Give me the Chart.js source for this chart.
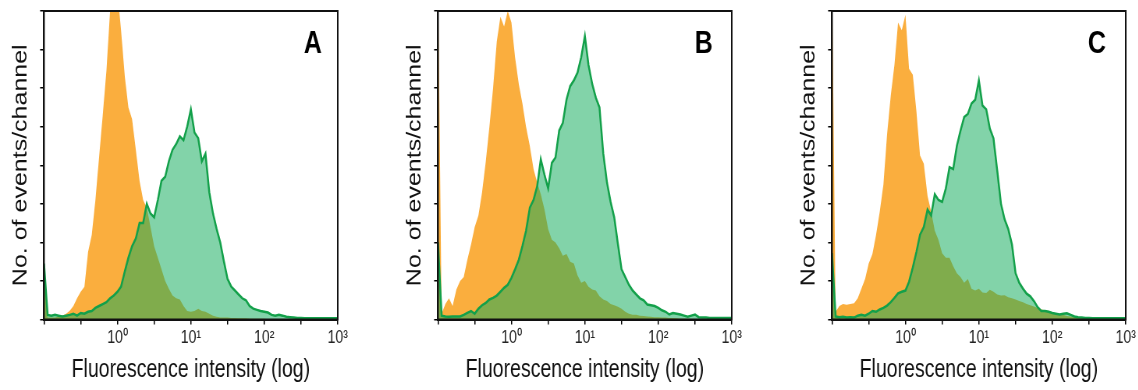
<!DOCTYPE html>
<html><head><meta charset="utf-8">
<script src="https://cdn.jsdelivr.net/npm/chart.js@4.4.1/dist/chart.umd.min.js"></script>
<style>
html,body{margin:0;padding:0;background:#fff;overflow:hidden;width:1138px;height:390px;}
.panel{position:absolute;top:0;width:449px;height:390px;transform:scaleX(0.78);transform-origin:0 0;}
canvas{display:block;}
</style></head><body>
<div class="panel" style="left:0px"><canvas id="cA" width="449" height="390"></canvas></div>
<div class="panel" style="left:394px"><canvas id="cB" width="449" height="390"></canvas></div>
<div class="panel" style="left:788px"><canvas id="cC" width="449" height="390"></canvas></div>
<script>
// Fluorescence channels (log-spaced, 0.1 .. 1000)
const channels = [0.1,0.112,0.126,0.141,0.158,0.178,0.2,0.224,0.251,0.282,
0.316,0.355,0.398,0.447,0.501,0.562,0.631,0.708,0.794,0.891,
1,1.12,1.26,1.41,1.58,1.78,2,2.24,2.51,2.82,
3.16,3.55,3.98,4.47,5.01,5.62,6.31,7.08,7.94,8.91,
10,11.2,12.6,14.1,15.8,17.8,20,22.4,25.1,28.2,
31.6,35.5,39.8,44.7,50.1,56.2,63.1,70.8,79.4,89.1,
100,112,126,141,158,178,200,224,251,282,
316,355,398,447,501,562,631,708,794,891,1000];

const tickValues = [0.1, 0.316, 1, 3.16, 10, 31.6, 100, 316, 1000];
const tickLabels = ['', '', '10\u2070', '', '10\u00b9', '', '10\u00b2', '', '10\u00b3'];
const panelLetters = ['A', 'B', 'C'];

const orangeA = [1.3,0.05,0.05,0.05,0.08,0.1,0.15,0.23,0.35,0.55,
0.72,0.85,1.75,2.2,3.1,4.2,5.3,6.45,8.0,8.5,
8.5,7.5,6.3,5.5,5.2,4.4,3.6,3.1,2.9,2.4,
1.9,1.6,1.3,1.0,0.8,0.62,0.55,0.52,0.35,0.22,
0.2,0.22,0.28,0.22,0.2,0.15,0.1,0.07,0.05,0.05,
0.05,0.04,0.04,0.03,0.03,0.03,0.02,0.02,0.02,0.02,
0.02,0,0,0,0,0,0,0,0,0,
0,0,0,0,0,0,0,0,0,0,0];
const greenA = [1.45,0.12,0.1,0.12,0.1,0.08,0.1,0.12,0.15,0.1,
0.17,0.15,0.2,0.22,0.3,0.35,0.4,0.45,0.55,0.62,
0.72,0.85,1.25,1.6,1.9,2.1,2.5,2.5,3.0,2.75,
2.65,3.1,3.6,3.7,4.1,4.4,4.55,4.75,4.65,5.0,
5.45,4.85,4.7,4.1,4.3,3.3,2.75,2.35,2.0,1.5,
1.05,0.85,0.75,0.65,0.55,0.5,0.35,0.28,0.25,0.22,
0.2,0.18,0.12,0.1,0.12,0.1,0.07,0.06,0.05,0.04,
0.04,0.03,0.03,0.03,0.03,0.03,0.03,0.03,0.03,0.03,0.03];

const orangeB = [9,0.15,0.4,0.55,0.35,0.78,1.0,1.1,1.55,1.95,
2.4,2.7,3.3,4.1,5.0,6.0,7.2,7.85,7.6,8.0,
7.7,6.8,6.1,5.6,5.0,4.5,3.9,3.55,3.25,2.85,
2.35,2.07,2.0,1.85,1.65,1.7,1.5,1.45,1.15,0.95,
1.0,0.85,0.78,0.75,0.6,0.52,0.48,0.4,0.37,0.33,
0.28,0.2,0.15,0.12,0.12,0.1,0.09,0.08,0.07,0.06,
0.06,0.05,0.05,0.04,0.04,0.03,0.02,0.02,0.02,0.01,
0,0,0,0,0,0,0,0,0,0,0];
const greenB = [2.0,0.1,0.08,0.07,0.08,0.08,0.08,0.12,0.17,0.22,
0.15,0.28,0.37,0.43,0.52,0.56,0.62,0.72,0.82,0.9,
1.08,1.3,1.55,1.9,2.3,2.9,3.1,3.45,4.15,3.75,
3.4,4.06,4.2,4.9,5.1,5.7,6.05,6.2,6.4,6.8,
7.35,6.6,6.1,5.75,5.5,4.3,3.55,3.05,2.65,1.95,
1.3,1.1,0.9,0.75,0.65,0.55,0.5,0.39,0.37,0.35,
0.3,0.24,0.2,0.13,0.17,0.15,0.13,0.1,0.07,0.1,
0.13,0.06,0.05,0.05,0.04,0.04,0.04,0.04,0.04,0.04,0.04];

const orangeC = [9,0.2,0.35,0.4,0.38,0.4,0.42,0.55,0.8,1.05,
1.45,1.7,2.2,2.8,3.5,4.8,5.8,6.6,7.7,7.5,
7.9,6.5,6.35,5.4,4.25,4.04,3.2,2.8,2.3,2.06,
1.72,1.6,1.6,1.38,1.2,1.1,0.95,1.05,0.8,0.75,
0.8,0.7,0.69,0.77,0.72,0.65,0.62,0.63,0.58,0.55,
0.52,0.48,0.45,0.4,0.37,0.34,0.3,0.26,0.24,0.22,
0.18,0.15,0.13,0.12,0.09,0.08,0.07,0.06,0.05,0.05,
0.04,0.03,0.03,0.02,0.02,0.02,0.01,0.01,0.01,0.01,0.01];
const greenC = [1.72,0.08,0.06,0.07,0.05,0.06,0.05,0.1,0.12,0.1,
0.15,0.22,0.2,0.26,0.3,0.36,0.45,0.56,0.68,0.72,
0.75,0.98,1.35,1.75,2.2,2.4,2.85,2.7,3.25,3.1,
3.05,3.4,3.95,3.9,4.5,4.9,5.25,5.33,5.6,5.7,
6.2,5.55,5.45,4.95,4.7,3.85,3.0,2.6,2.35,1.95,
1.2,0.95,0.8,0.67,0.6,0.48,0.32,0.22,0.22,0.2,
0.17,0.15,0.13,0.15,0.16,0.12,0.08,0.06,0.05,0.04,
0.04,0.03,0.03,0.03,0.03,0.03,0.03,0.03,0.03,0.03,0.03];

const FONT = "'Liberation Sans', Arial, Helvetica, sans-serif";

function framePlugin(letter, letterX) {
  return {
    id: 'frame' + letter,
    afterDraw(chart) {
      const {ctx, chartArea: a} = chart;
      ctx.save();
      ctx.strokeStyle = '#111';
      ctx.lineWidth = 2;
      ctx.strokeRect(a.left, a.top, a.right - a.left, a.bottom - a.top);
      ctx.fillStyle = '#000';
      ctx.font = 'bold 32px ' + FONT;
      ctx.textAlign = 'center';
      ctx.textBaseline = 'middle';
      ctx.fillText(letter, letterX, 44);
      ctx.restore();
    }
  };
}

function makePanel(id, letter, letterX, orange, green) {
  new Chart(document.getElementById(id), {
    type: 'line',
    data: {
      datasets: [
        { data: channels.map((c, i) => ({x: c, y: orange[i]})), fill: 'origin', order: 2,
          backgroundColor: '#faae3e', borderWidth: 0, borderColor: 'rgba(0,0,0,0)', pointRadius: 0, tension: 0 },
        { data: channels.map((c, i) => ({x: c, y: green[i]})), fill: 'origin', order: 1,
          backgroundColor: 'rgba(16,170,90,0.52)', borderColor: '#13a04a', borderWidth: 2.5, pointRadius: 0, tension: 0 }
      ]
    },
    options: {
      responsive: false, animation: false, devicePixelRatio: 1,
      layout: { autoPadding: false, padding: { left: 0, right: 11.2, top: 11, bottom: 0 } },
      plugins: { legend: { display: false }, tooltip: { enabled: false } },
      scales: {
        x: {
          type: 'logarithmic', min: 0.1, max: 1000,
          afterBuildTicks: sc => { sc.ticks = tickValues.map(v => ({ value: v })); },
          afterFit: sc => { sc.height = 70.5; },
          ticks: { autoSkip: false, maxRotation: 0, minRotation: 0, padding: 3, color: '#222',
                   font: { family: FONT, size: 18 }, callback: (v, i) => tickLabels[i] },
          grid: { drawOnChartArea: false, drawTicks: true, tickLength: 5, color: '#000', lineWidth: 1.5 },
          border: { display: true, color: '#111', width: 2 },
          title: { display: true, text: 'Fluorescence intensity (log)', color: '#111',
                   font: { family: FONT, size: 25 }, padding: { top: 0, bottom: 5 } }
        },
        y: {
          min: 0, max: 8,
          afterFit: sc => { sc.width = 56.4; },
          ticks: { display: false, stepSize: 1 },
          grid: { drawOnChartArea: false, drawTicks: true, tickLength: 5, color: '#000', lineWidth: 1.5 },
          border: { display: true, color: '#111', width: 2 },
          title: { display: true, text: 'No. of events/channel', color: '#111',
                   font: { family: FONT, size: 25 }, padding: { top: 12, bottom: 0 } }
        }
      }
    },
    plugins: [framePlugin(letter, letterX)]
  });
}

makePanel('cA', panelLetters[0], 401, orangeA, greenA);
makePanel('cB', panelLetters[1], 397, orangeB, greenB);
makePanel('cC', panelLetters[2], 396, orangeC, greenC);
</script>
</body></html>
